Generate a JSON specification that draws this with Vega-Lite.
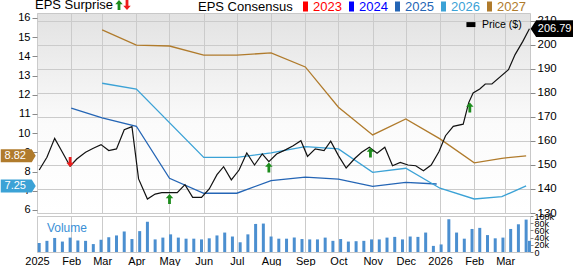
{
  "$schema": "https://vega.github.io/schema/vega-lite/v6.json",
  "padding": 0,
  "spacing": 3,
  "bounds": "flush",
  "config": {
    "font": "Liberation Sans",
    "view": {"stroke": "#c8c8c8"},
    "axis": {"gridColor": "#cbcbcb", "tickColor": "#8a8a8a", "labelColor": "#000000", "domain": false, "title": null, "labelFontSize": 11, "tickSize": 5, "labelPadding": 2, "labelOverlap": false, "labelFlush": false}
  },
  "datasets": {
    "eps": [
      {"date": "2025-02-01", "eps": 11.30, "year": "2025"},
      {"date": "2025-03-01", "eps": 10.80, "year": "2025"},
      {"date": "2025-04-01", "eps": 10.36, "year": "2025"},
      {"date": "2025-05-01", "eps": 7.65, "year": "2025"},
      {"date": "2025-06-01", "eps": 6.87, "year": "2025"},
      {"date": "2025-07-01", "eps": 6.87, "year": "2025"},
      {"date": "2025-08-01", "eps": 7.53, "year": "2025"},
      {"date": "2025-09-01", "eps": 7.71, "year": "2025"},
      {"date": "2025-10-01", "eps": 7.61, "year": "2025"},
      {"date": "2025-11-01", "eps": 7.23, "year": "2025"},
      {"date": "2025-12-01", "eps": 7.44, "year": "2025"},
      {"date": "2025-12-29", "eps": 7.35, "year": "2025"},
      {"date": "2025-03-01", "eps": 12.60, "year": "2026"},
      {"date": "2025-04-01", "eps": 12.30, "year": "2026"},
      {"date": "2025-06-01", "eps": 8.74, "year": "2026"},
      {"date": "2025-07-01", "eps": 8.74, "year": "2026"},
      {"date": "2025-08-01", "eps": 8.97, "year": "2026"},
      {"date": "2025-09-01", "eps": 9.30, "year": "2026"},
      {"date": "2025-10-01", "eps": 9.18, "year": "2026"},
      {"date": "2025-11-01", "eps": 7.96, "year": "2026"},
      {"date": "2025-12-01", "eps": 8.17, "year": "2026"},
      {"date": "2026-01-01", "eps": 7.13, "year": "2026"},
      {"date": "2026-02-01", "eps": 6.57, "year": "2026"},
      {"date": "2026-02-26", "eps": 6.69, "year": "2026"},
      {"date": "2026-03-20", "eps": 7.25, "year": "2026"},
      {"date": "2025-03-01", "eps": 15.38, "year": "2027"},
      {"date": "2025-04-01", "eps": 14.59, "year": "2027"},
      {"date": "2025-05-01", "eps": 14.54, "year": "2027"},
      {"date": "2025-06-01", "eps": 14.07, "year": "2027"},
      {"date": "2025-07-01", "eps": 14.07, "year": "2027"},
      {"date": "2025-08-01", "eps": 14.18, "year": "2027"},
      {"date": "2025-09-01", "eps": 13.45, "year": "2027"},
      {"date": "2025-10-01", "eps": 11.35, "year": "2027"},
      {"date": "2025-11-01", "eps": 9.91, "year": "2027"},
      {"date": "2025-12-01", "eps": 10.74, "year": "2027"},
      {"date": "2026-01-01", "eps": 9.70, "year": "2027"},
      {"date": "2026-02-01", "eps": 8.45, "year": "2027"},
      {"date": "2026-02-26", "eps": 8.69, "year": "2027"},
      {"date": "2026-03-20", "eps": 8.82, "year": "2027"}
    ],
    "badges": [
      {"eps": 8.82, "year": "2027", "label": "8.82"},
      {"eps": 7.25, "year": "2026", "label": "7.25"}
    ],
    "price": [
      {"date": "2025-01-03", "price": 147.9},
      {"date": "2025-01-10", "price": 153.2},
      {"date": "2025-01-17", "price": 161.1},
      {"date": "2025-01-24", "price": 155.3},
      {"date": "2025-01-31", "price": 149.5},
      {"date": "2025-02-06", "price": 152.5},
      {"date": "2025-02-14", "price": 155.3},
      {"date": "2025-02-21", "price": 157.0},
      {"date": "2025-02-28", "price": 158.5},
      {"date": "2025-03-07", "price": 156.0},
      {"date": "2025-03-14", "price": 156.7},
      {"date": "2025-03-21", "price": 164.7},
      {"date": "2025-03-28", "price": 166.0},
      {"date": "2025-04-03", "price": 144.2},
      {"date": "2025-04-11", "price": 135.8},
      {"date": "2025-04-18", "price": 137.9},
      {"date": "2025-04-24", "price": 138.5},
      {"date": "2025-05-01", "price": 138.5},
      {"date": "2025-05-08", "price": 138.5},
      {"date": "2025-05-15", "price": 141.8},
      {"date": "2025-05-22", "price": 136.5},
      {"date": "2025-05-30", "price": 136.5},
      {"date": "2025-06-06", "price": 140.0},
      {"date": "2025-06-13", "price": 146.0},
      {"date": "2025-06-19", "price": 149.3},
      {"date": "2025-06-26", "price": 143.8},
      {"date": "2025-07-03", "price": 147.9},
      {"date": "2025-07-10", "price": 155.0},
      {"date": "2025-07-17", "price": 150.0},
      {"date": "2025-07-24", "price": 154.6},
      {"date": "2025-07-30", "price": 151.4},
      {"date": "2025-08-06", "price": 154.6},
      {"date": "2025-08-14", "price": 156.3},
      {"date": "2025-08-21", "price": 158.0},
      {"date": "2025-08-28", "price": 160.1},
      {"date": "2025-09-03", "price": 153.6},
      {"date": "2025-09-10", "price": 156.7},
      {"date": "2025-09-18", "price": 156.0},
      {"date": "2025-09-24", "price": 159.9},
      {"date": "2025-10-01", "price": 153.9},
      {"date": "2025-10-08", "price": 148.75},
      {"date": "2025-10-16", "price": 152.8},
      {"date": "2025-10-22", "price": 155.3},
      {"date": "2025-10-29", "price": 157.4},
      {"date": "2025-11-05", "price": 154.9},
      {"date": "2025-11-12", "price": 157.4},
      {"date": "2025-11-19", "price": 149.7},
      {"date": "2025-11-26", "price": 151.1},
      {"date": "2025-12-03", "price": 150.0},
      {"date": "2025-12-10", "price": 149.7},
      {"date": "2025-12-17", "price": 147.6},
      {"date": "2025-12-24", "price": 150.0},
      {"date": "2025-12-31", "price": 155.5},
      {"date": "2026-01-06", "price": 162.2},
      {"date": "2026-01-13", "price": 166.1},
      {"date": "2026-01-22", "price": 167.0},
      {"date": "2026-01-27", "price": 176.0},
      {"date": "2026-01-31", "price": 180.0},
      {"date": "2026-02-06", "price": 181.7},
      {"date": "2026-02-11", "price": 183.75},
      {"date": "2026-02-17", "price": 183.75},
      {"date": "2026-03-04", "price": 189.7},
      {"date": "2026-03-10", "price": 196.0},
      {"date": "2026-03-17", "price": 201.5},
      {"date": "2026-03-23", "price": 206.79}
    ],
    "surprises": [
      {"date": "2025-01-31", "price": 151.3, "type": "miss"},
      {"date": "2025-05-01", "price": 135.8, "type": "beat"},
      {"date": "2025-07-30", "price": 149.0, "type": "beat"},
      {"date": "2025-10-30", "price": 155.2, "type": "beat"},
      {"date": "2026-01-28", "price": 174.0, "type": "beat"}
    ],
    "volume": [
      {"date": "2025-01-03", "volume": 25000}, {"date": "2025-01-10", "volume": 31000}, {"date": "2025-01-17", "volume": 39000},
      {"date": "2025-01-24", "volume": 29000}, {"date": "2025-01-31", "volume": 40000}, {"date": "2025-02-07", "volume": 32000},
      {"date": "2025-02-14", "volume": 31000}, {"date": "2025-02-21", "volume": 22000}, {"date": "2025-02-28", "volume": 34000},
      {"date": "2025-03-07", "volume": 41000}, {"date": "2025-03-14", "volume": 46000}, {"date": "2025-03-21", "volume": 57000},
      {"date": "2025-03-28", "volume": 36000}, {"date": "2025-04-04", "volume": 58000}, {"date": "2025-04-11", "volume": 84000},
      {"date": "2025-04-18", "volume": 35000}, {"date": "2025-04-25", "volume": 40000}, {"date": "2025-05-02", "volume": 49000},
      {"date": "2025-05-09", "volume": 40000}, {"date": "2025-05-16", "volume": 37000}, {"date": "2025-05-23", "volume": 37000},
      {"date": "2025-05-30", "volume": 35000}, {"date": "2025-06-06", "volume": 38000}, {"date": "2025-06-13", "volume": 46000},
      {"date": "2025-06-20", "volume": 54000}, {"date": "2025-06-27", "volume": 43000}, {"date": "2025-07-04", "volume": 27000},
      {"date": "2025-07-11", "volume": 49000}, {"date": "2025-07-18", "volume": 78000}, {"date": "2025-07-25", "volume": 79000},
      {"date": "2025-08-01", "volume": 43000}, {"date": "2025-08-08", "volume": 37000}, {"date": "2025-08-15", "volume": 37000},
      {"date": "2025-08-22", "volume": 40000}, {"date": "2025-08-29", "volume": 36000}, {"date": "2025-09-05", "volume": 35000},
      {"date": "2025-09-12", "volume": 35000}, {"date": "2025-09-19", "volume": 40000}, {"date": "2025-09-26", "volume": 31000},
      {"date": "2025-10-03", "volume": 36000}, {"date": "2025-10-10", "volume": 29000}, {"date": "2025-10-17", "volume": 30000},
      {"date": "2025-10-24", "volume": 31000}, {"date": "2025-10-31", "volume": 35000}, {"date": "2025-11-07", "volume": 35000},
      {"date": "2025-11-14", "volume": 40000}, {"date": "2025-11-21", "volume": 42000}, {"date": "2025-11-28", "volume": 35000},
      {"date": "2025-12-05", "volume": 43000}, {"date": "2025-12-12", "volume": 42000}, {"date": "2025-12-19", "volume": 54000},
      {"date": "2025-12-26", "volume": 17000}, {"date": "2026-01-02", "volume": 21000}, {"date": "2026-01-09", "volume": 91000},
      {"date": "2026-01-16", "volume": 54000}, {"date": "2026-01-23", "volume": 37000}, {"date": "2026-01-30", "volume": 64000},
      {"date": "2026-02-06", "volume": 67000}, {"date": "2026-02-13", "volume": 47000}, {"date": "2026-02-20", "volume": 38000},
      {"date": "2026-02-27", "volume": 40000}, {"date": "2026-03-06", "volume": 64000}, {"date": "2026-03-13", "volume": 77000},
      {"date": "2026-03-20", "volume": 90000}, {"date": "2026-03-23", "volume": 31000}
    ]
  },
  "vconcat": [
    {
      "width": 493,
      "height": 200,
      "view": {
        "stroke": "#c8c8c8",
        "fill": {"gradient": "linear", "x1": 0, "y1": 0, "x2": 0, "y2": 1, "stops": [{"offset": 0, "color": "#e2e2e2"}, {"offset": 0.55, "color": "#fbfbfb"}, {"offset": 1, "color": "#ffffff"}]}
      },
      "resolve": {"scale": {"y": "independent"}},
      "layer": [
        {
          "layer": [
            {
              "data": {"name": "eps"},
              "mark": {"type": "line", "strokeWidth": 1.3},
              "encoding": {
                "x": {
                  "field": "date", "type": "temporal",
                  "scale": {"type": "utc", "nice": false, "padding": 0, "domain": [{"year": 2025, "month": 1, "date": 1, "utc": true}, {"year": 2026, "month": 3, "date": 23, "hours": 12, "utc": true}]},
                  "axis": {"orient": "bottom", "labels": false, "ticks": false, "domain": false, "grid": true, "tickCount": {"interval": "month", "step": 1}}
                },
                "y": {
                  "field": "eps", "type": "quantitative",
                  "scale": {"domain": [5.84, 16.26], "nice": false, "zero": false},
                  "axis": {"orient": "left", "grid": false, "tickCount": 11}
                },
                "color": {
                  "field": "year", "type": "nominal",
                  "scale": {"domain": ["2023", "2024", "2025", "2026", "2027"], "range": ["#ff0000", "#0000ff", "#2465b5", "#3ba2d6", "#b07b2c"]},
                  "legend": {
                    "title": "EPS Consensus", "orient": "none", "legendX": 161, "legendY": -13, "direction": "horizontal",
                    "columns": 5, "gridAlign": "none",
                    "titleOrient": "left", "titleFontSize": 13, "titleFontWeight": "normal", "titleColor": "#000000", "titlePadding": 6,
                    "labelFontSize": 13, "labelOffset": 1, "columnPadding": 3, "padding": 0,
                    "symbolType": "M-0.5,-1L0.5,-1L0.5,1L-0.5,1Z", "symbolSize": 100, "symbolStrokeWidth": 0,
                    "encode": {
                      "symbols": {"update": {"fill": {"signal": "datum.value === '2023' ? '#ff0000' : datum.value === '2024' ? '#0000ff' : datum.value === '2025' ? '#2465b5' : datum.value === '2026' ? '#3ba2d6' : '#b07b2c'"}, "stroke": {"value": "transparent"}, "opacity": {"value": 1}}},
                      "labels": {"update": {"fill": {"signal": "datum.value === '2023' ? '#ff0000' : datum.value === '2024' ? '#0000ff' : datum.value === '2025' ? '#2465b5' : datum.value === '2026' ? '#3ba2d6' : '#b07b2c'"}}}
                    }
                  }
                }
              }
            },
            {
              "data": {"name": "badges"},
              "mark": {"type": "point", "filled": true, "opacity": 1, "size": 1225, "strokeWidth": 0, "shape": "M-1,-0.37L0.77,-0.37L1,0L0.77,0.37L-1,0.37Z"},
              "encoding": {
                "x": {"datum": {"year": 2024, "month": 12, "date": 15, "utc": true}, "type": "temporal"},
                "y": {"field": "eps", "type": "quantitative"},
                "color": {"field": "year", "type": "nominal"}
              }
            },
            {
              "data": {"name": "badges"},
              "mark": {"type": "text", "color": "#ffffff", "fontSize": 11, "align": "center", "baseline": "middle", "dx": -3},
              "encoding": {
                "x": {"datum": {"year": 2024, "month": 12, "date": 15, "utc": true}, "type": "temporal"},
                "y": {"field": "eps", "type": "quantitative"},
                "text": {"field": "label"}
              }
            }
          ]
        },
        {
          "layer": [
            {
              "data": {"name": "price"},
              "mark": {"type": "line", "color": "#111111", "strokeWidth": 1.2},
              "encoding": {
                "x": {"field": "date", "type": "temporal"},
                "y": {
                  "field": "price", "type": "quantitative",
                  "scale": {"domain": [130, 213.33], "nice": false, "zero": false},
                  "axis": {"orient": "right", "grid": true, "tickCount": 9, "labelFontSize": 11.5}
                }
              }
            },
            {
              "data": {"name": "surprises"},
              "mark": {"type": "point", "filled": true, "opacity": 1, "size": 100, "strokeWidth": 0},
              "encoding": {
                "x": {"field": "date", "type": "temporal"},
                "y": {"field": "price", "type": "quantitative"},
                "shape": {
                  "field": "type", "type": "nominal",
                  "scale": {"domain": ["beat", "miss"], "range": ["M0,-1L0.75,-0.15L0.28,-0.15L0.28,1L-0.28,1L-0.28,-0.15L-0.75,-0.15Z", "M0,1L0.75,0.15L0.28,0.15L0.28,-1L-0.28,-1L-0.28,0.15L-0.75,0.15Z"]},
                  "legend": {
                    "title": "EPS Surprise", "orient": "none", "legendX": -2, "legendY": -13, "direction": "horizontal",
                    "columns": 2, "gridAlign": "none",
                    "titleOrient": "left", "titleFontSize": 13, "titleFontWeight": "normal", "titleColor": "#000000", "titlePadding": 0,
                    "labelExpr": "''", "labelOffset": 0, "columnPadding": -2, "symbolSize": 100, "symbolStrokeWidth": 0, "padding": 0,
                    "encode": {"symbols": {"update": {"fill": {"signal": "datum.value === 'beat' ? '#1c8c1c' : '#ee1c1c'"}, "stroke": {"value": "transparent"}, "opacity": {"value": 1}}}}
                  }
                },
                "fill": {
                  "field": "type", "type": "nominal",
                  "scale": {"domain": ["beat", "miss"], "range": ["#1c8c1c", "#ee1c1c"]},
                  "legend": null
                }
              }
            },
            {
              "data": {"values": [{"price": 206.79, "label": "206.79"}]},
              "mark": {"type": "point", "filled": true, "opacity": 1, "size": 1936, "strokeWidth": 0, "color": "#000000", "shape": "M-1,0L-0.75,-0.38L1,-0.38L1,0.38L-0.75,0.38Z"},
              "encoding": {
                "x": {"datum": {"year": 2026, "month": 4, "date": 13, "utc": true}, "type": "temporal"},
                "y": {"field": "price", "type": "quantitative"}
              }
            },
            {
              "data": {"values": [{"price": 206.79, "label": "206.79"}]},
              "mark": {"type": "text", "color": "#ffffff", "fontSize": 11, "align": "center", "baseline": "middle", "dx": 2},
              "encoding": {
                "x": {"datum": {"year": 2026, "month": 4, "date": 13, "utc": true}, "type": "temporal"},
                "y": {"field": "price", "type": "quantitative"},
                "text": {"field": "label"}
              }
            },
            {
              "data": {"values": [{"price": 208.5, "label": "Price ($)"}]},
              "mark": {"type": "point", "filled": true, "opacity": 1, "size": 81, "strokeWidth": 0, "color": "#000000", "shape": "M-1,-0.55L1,-0.55L1,0.55L-1,0.55Z"},
              "encoding": {
                "x": {"datum": {"year": 2026, "month": 1, "date": 29, "utc": true}, "type": "temporal"},
                "y": {"field": "price", "type": "quantitative"}
              }
            },
            {
              "data": {"values": [{"price": 208.5, "label": "Price ($)"}]},
              "mark": {"type": "text", "color": "#000000", "fontSize": 10.5, "align": "left", "baseline": "middle"},
              "encoding": {
                "x": {"datum": {"year": 2026, "month": 2, "date": 8, "utc": true}, "type": "temporal"},
                "y": {"field": "price", "type": "quantitative"},
                "text": {"field": "label"}
              }
            }
          ]
        }
      ]
    },
    {
      "width": 493,
      "height": 36,
      "view": {"stroke": "#c8c8c8", "fill": "#ffffff"},
      "layer": [
        {
          "data": {"name": "volume"},
          "mark": {"type": "bar", "size": 3, "color": "#4b8fd0"},
          "encoding": {
            "x": {
              "field": "date", "type": "temporal",
              "scale": {"type": "utc", "nice": false, "padding": 0, "domain": [{"year": 2025, "month": 1, "date": 1, "utc": true}, {"year": 2026, "month": 3, "date": 23, "hours": 12, "utc": true}]},
              "axis": {
                "orient": "bottom", "ticks": false, "domain": false, "grid": true, "labelPadding": 3, "tickCount": {"interval": "month", "step": 1},
                "labelExpr": "utcmonth(datum.value) === 0 ? utcFormat(datum.value, '%Y') : utcFormat(datum.value, '%b')"
              }
            },
            "y": {
              "field": "volume", "type": "quantitative",
              "scale": {"domain": [0, 100000], "nice": false, "zero": true},
              "axis": {"orient": "right", "grid": false, "tickCount": 5, "labelExpr": "datum.value === 0 ? '0' : (datum.value / 1000) + 'k'", "labelFontSize": 9, "tickSize": 3, "labelPadding": 1}
            }
          }
        },
        {
          "data": {"values": [{"label": "Volume", "volume": 68000}]},
          "mark": {"type": "text", "align": "left", "baseline": "middle", "color": "#3a8fd6", "fontSize": 12},
          "encoding": {
            "x": {"datum": {"year": 2025, "month": 1, "date": 10, "utc": true}, "type": "temporal"},
            "y": {"field": "volume", "type": "quantitative"},
            "text": {"field": "label"}
          }
        }
      ]
    }
  ]
}
